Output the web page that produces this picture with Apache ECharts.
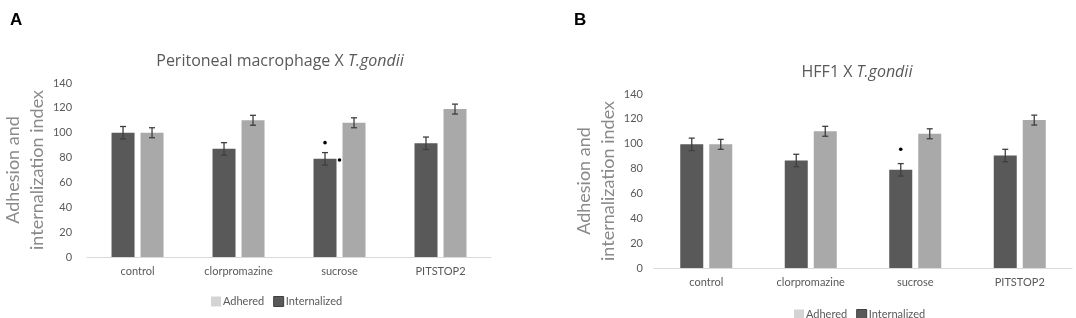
<!DOCTYPE html>
<html>
<head>
<meta charset="utf-8">
<script src="https://cdn.jsdelivr.net/npm/echarts@6/dist/echarts.min.js"></script>
<style>
  html, body { margin: 0; padding: 0; background: #fff; }
  #chart { width: 1076px; height: 318px; }
</style>
</head>
<body>
<div id="chart"></div>
<script>
// values
var categories = ['control', 'clorpromazine', 'sucrose', 'PITSTOP2'];
var yMin = 0, yMax = 140, yStep = 20;

var internalizedA = [100, 87, 79, 91.5];
var internalizedErrA = [5, 5, 5, 5];
var adheredA = [100, 110, 108, 119];
var adheredErrA = [4, 4, 4, 4];
var starsA = [['sucrose', 92, 'over'], ['sucrose', 78, 'side']];

var internalizedB = [99.5, 86.5, 79, 90.5];
var internalizedErrB = [5, 5, 5, 5];
var adheredB = [99.5, 110, 108, 119];
var adheredErrB = [4, 4, 4, 4];
var starsB = [['sucrose', 95.5, 'over']];

var DARK = '#595959', LIGHT = '#a9a9a9', TXT = '#595959';
var FONT = 'Lato';
var barW = 23, gapPx = 6;
var half = (barW + gapPx) / 2;

function errorSeries(vals, errs, gridIdx, dx) {
  return {
    type: 'custom',
    xAxisIndex: gridIdx,
    yAxisIndex: gridIdx,
    silent: true,
    z: 10,
    data: vals.map(function (v, i) { return [i, v - errs[i], v + errs[i]]; }),
    renderItem: function (params, api) {
      var lo = api.coord([api.value(0), api.value(1)]),
        hi = api.coord([api.value(0), api.value(2)]),
        x = lo[0] + dx,
        st = { stroke: '#3f3f3f', lineWidth: 1.3 };
      return {
        type: 'group',
        children: [
          { type: 'line', shape: { x1: x, y1: lo[1], x2: x, y2: hi[1] }, style: st },
          { type: 'line', shape: { x1: x - 3, y1: lo[1], x2: x + 3, y2: lo[1] }, style: st },
          { type: 'line', shape: { x1: x - 3, y1: hi[1], x2: x + 3, y2: hi[1] }, style: st }
        ]
      };
    }
  };
}

function starSeries(stars, gridIdx) {
  return {
    type: 'custom',
    xAxisIndex: gridIdx,
    yAxisIndex: gridIdx,
    silent: true,
    z: 11,
    data: stars.map(function (s) { return [categories.indexOf(s[0]), s[1], s[2] === 'over' ? 0 : 1]; }),
    renderItem: function (params, api) {
      var p = api.coord([api.value(0), api.value(1)]),
        dx = api.value(2) === 0 ? -half : 0;
      return { type: 'circle', shape: { cx: p[0] + dx, cy: p[1], r: 1.8 }, style: { fill: '#000' } };
    }
  };
}

function barSeries(name, color, vals, gridIdx) {
  return {
    name: name,
    type: 'bar',
    xAxisIndex: gridIdx,
    yAxisIndex: gridIdx,
    barWidth: barW,
    barGap: (gapPx / barW * 100) + '%',
    itemStyle: { color: color },
    data: vals
  };
}

function xAxisFor(gridIdx) {
  return {
    type: 'category',
    gridIndex: gridIdx,
    data: categories,
    axisLine: { lineStyle: { color: '#d9d9d9', width: 1 } },
    axisTick: { show: false },
    axisLabel: { color: TXT, fontFamily: FONT, fontSize: 11, margin: 9 }
  };
}

function yAxisFor(gridIdx, labelMargin, nameGap) {
  return {
    type: 'value',
    gridIndex: gridIdx,
    min: yMin,
    max: yMax,
    interval: yStep,
    name: 'Adhesion and\ninternalization index',
    nameLocation: 'middle',
    nameRotate: 90,
    nameGap: nameGap,
    nameTextStyle: { color: '#8a8a8a', fontFamily: FONT, fontSize: 18, lineHeight: 24 },
    axisLine: { show: false },
    axisTick: { show: false },
    splitLine: { show: false },
    axisLabel: { color: TXT, fontFamily: FONT, fontSize: 11, margin: labelMargin }
  };
}

function legendFor(left, top) {
  return {
    left: left,
    top: top,
    itemWidth: 10,
    itemHeight: 10,
    itemGap: 9,
    icon: 'rect',
    selectedMode: false,
    textStyle: { color: TXT, fontFamily: FONT, fontSize: 11, padding: [0, 0, 0, -3] },
    data: [
      { name: 'Adhered', itemStyle: { color: '#d4d4d4' } },
      { name: 'Internalized', itemStyle: { color: DARK, borderColor: '#404040', borderWidth: 1 } }
    ]
  };
}

function titleFor(left, top, main) {
  return {
    left: left,
    top: top,
    textAlign: 'center',
    text: '{n|' + main + ' X }{i|T.gondii}',
    textStyle: {
      fontWeight: 'normal',
      rich: {
        n: { color: TXT, fontFamily: 'Open Sans', fontSize: 16, fontWeight: 'normal' },
        i: { color: TXT, fontFamily: 'Open Sans', fontSize: 16, fontWeight: 'normal', fontStyle: 'italic' }
      }
    }
  };
}

var letterStyle = { fontFamily: 'Liberation Sans', fontWeight: 'bold', fontSize: 17, color: '#000' };

var myChart = echarts.init(document.getElementById('chart'));
var option = {
  animation: false,
  title: [
    { left: 5, top: 7, text: 'A', textStyle: letterStyle },
    { left: 569, top: 7, text: 'B', textStyle: letterStyle },
    titleFor(275, 48, 'Peritoneal macrophage'),
    titleFor(852, 59, 'HFF1')
  ],
  legend: [legendFor(206, 291), legendFor(789, 304)],
  grid: [
    { left: 72, right: 1076 - 491, top: 83, bottom: 318 - 257 },
    { left: 654, right: 4, top: 94, bottom: 318 - 268 }
  ],
  xAxis: [xAxisFor(0), xAxisFor(1)],
  yAxis: [yAxisFor(0, 15, 33), yAxisFor(1, 11, 32)],
  series: [
    barSeries('Internalized', DARK, internalizedA, 0),
    barSeries('Adhered', LIGHT, adheredA, 0),
    errorSeries(internalizedA, internalizedErrA, 0, -half),
    errorSeries(adheredA, adheredErrA, 0, half),
    starSeries(starsA, 0),
    barSeries('Internalized', DARK, internalizedB, 1),
    barSeries('Adhered', LIGHT, adheredB, 1),
    errorSeries(internalizedB, internalizedErrB, 1, -half),
    errorSeries(adheredB, adheredErrB, 1, half),
    starSeries(starsB, 1)
  ]
};
myChart.setOption(option, true);
</script>
</body>
</html>
